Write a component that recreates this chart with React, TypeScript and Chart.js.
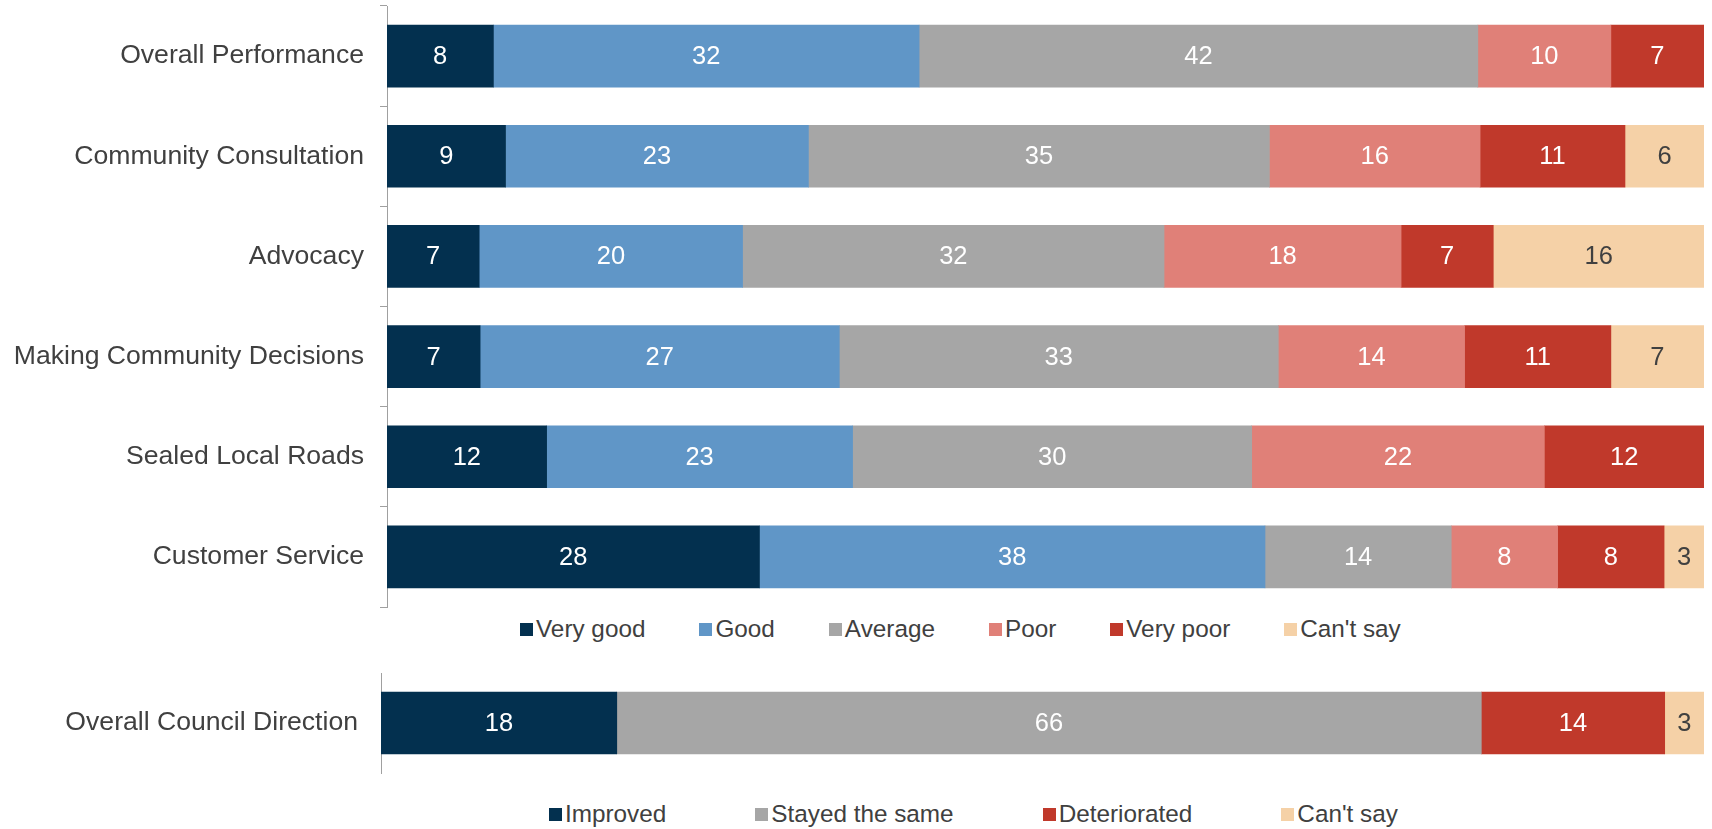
import React, { useEffect, useRef } from "react";
import { Chart, registerables } from "chart.js";

Chart.register(...registerables);

// ---------- Data ----------
const categories = [
  "Overall Performance",
  "Community Consultation",
  "Advocacy",
  "Making Community Decisions",
  "Sealed Local Roads",
  "Customer Service",
];
const ratingLabels = ["Very good", "Good", "Average", "Poor", "Very poor", "Can't say"];
const veryGood = [8, 9, 7, 7, 12, 28];
const good = [32, 23, 20, 27, 23, 38];
const average = [42, 35, 32, 33, 30, 14];
const poor = [10, 16, 18, 14, 22, 8];
const veryPoor = [7, 11, 7, 11, 12, 8];
const cantSay = [0, 6, 16, 7, 0, 3];

const directionCategories = ["Overall Council Direction"];
const directionLabels = ["Improved", "Stayed the same", "Deteriorated", "Can't say"];
const improved = [18];
const stayedSame = [66];
const deteriorated = [14];
const directionCantSay = [3];

// ---------- Styles ----------
const C_VERY_GOOD = "#03304f";
const C_GOOD = "#6096c7";
const C_AVERAGE = "#a6a6a6";
const C_POOR = "#e08078";
const C_VERY_POOR = "#c0392b";
const C_CANT_SAY = "#f5d1a7";
const TEXT = "#404040";
const FONT = "'Liberation Sans', Arial, sans-serif";

type Series = { label: string; values: number[]; color: string; labelColor: string };

const ratingSeries: Series[] = [
  { label: ratingLabels[0], values: veryGood, color: C_VERY_GOOD, labelColor: "#ffffff" },
  { label: ratingLabels[1], values: good, color: C_GOOD, labelColor: "#ffffff" },
  { label: ratingLabels[2], values: average, color: C_AVERAGE, labelColor: "#ffffff" },
  { label: ratingLabels[3], values: poor, color: C_POOR, labelColor: "#ffffff" },
  { label: ratingLabels[4], values: veryPoor, color: C_VERY_POOR, labelColor: "#ffffff" },
  { label: ratingLabels[5], values: cantSay, color: C_CANT_SAY, labelColor: TEXT },
];

const directionSeries: Series[] = [
  { label: directionLabels[0], values: improved, color: C_VERY_GOOD, labelColor: "#ffffff" },
  { label: directionLabels[1], values: stayedSame, color: C_AVERAGE, labelColor: "#ffffff" },
  { label: directionLabels[2], values: deteriorated, color: C_VERY_POOR, labelColor: "#ffffff" },
  { label: directionLabels[3], values: directionCantSay, color: C_CANT_SAY, labelColor: TEXT },
];

const valueLabelPlugin = {
  id: "valueLabels",
  afterDatasetsDraw(chart: any) {
    const ctx = chart.ctx;
    ctx.save();
    ctx.font = `25.5px ${FONT}`;
    ctx.textAlign = "center";
    ctx.textBaseline = "middle";
    chart.data.datasets.forEach((ds: any, i: number) => {
      const meta = chart.getDatasetMeta(i);
      meta.data.forEach((bar: any, j: number) => {
        const v = ds.rawValues[j];
        if (!v) return;
        const p = bar.getProps(["x", "base", "y"], true);
        ctx.fillStyle = ds.labelColor;
        ctx.fillText(String(v), (p.x + p.base) / 2, p.y + 1);
      });
    });
    ctx.restore();
  },
};

function StackedBars(props: {
  labels: string[];
  series: Series[];
  width: number;
  height: number;
  axisX: number;
  tickMarks: boolean;
}) {
  const ref = useRef<HTMLCanvasElement | null>(null);
  useEffect(() => {
    if (!ref.current) return;
    const totals = props.labels.map((_, j) =>
      props.series.reduce((s, ser) => s + ser.values[j], 0)
    );
    const chart = new Chart(ref.current, {
      type: "bar",
      data: {
        labels: props.labels,
        datasets: props.series.map((s) => ({
          label: s.label,
          data: s.values.map((v, j) => (v / totals[j]) * 100),
          rawValues: s.values,
          labelColor: s.labelColor,
          backgroundColor: s.color,
          borderWidth: 0,
          barThickness: 62,
        })) as any,
      },
      options: {
        indexAxis: "y",
        responsive: false,
        animation: false,
        events: [],
        layout: { padding: { top: 6, bottom: 6, right: 8, left: 0 } },
        plugins: { legend: { display: false }, tooltip: { enabled: false } },
        scales: {
          x: { display: false, stacked: true, min: 0, max: 100 },
          y: {
            stacked: true,
            afterFit: (scale: any) => {
              scale.width = props.axisX;
              scale.paddingTop = 0;
              scale.paddingBottom = 0;
            },
            grid: {
              display: true,
              offset: true,
              drawOnChartArea: false,
              drawTicks: props.tickMarks,
              tickLength: 7,
              color: "#a0a0a0",
              lineWidth: 1,
            },
            border: { display: true, color: "#a0a0a0", width: 1 },
            ticks: {
              padding: props.tickMarks ? 16 : 23,
              color: TEXT,
              font: { family: FONT, size: 26.6 },
            },
          },
        },
      },
      plugins: [valueLabelPlugin],
    });
    return () => chart.destroy();
  }, []);
  return <canvas ref={ref} width={props.width} height={props.height} style={{ display: "block" }} />;
}

function Legend(props: { series: Series[]; gap: number }) {
  return (
    <div
      style={{
        display: "flex",
        alignItems: "center",
        gap: props.gap,
        fontFamily: FONT,
        fontSize: 24.3,
        lineHeight: "28px",
        color: TEXT,
        whiteSpace: "nowrap",
      }}
    >
      {props.series.map((s) => (
        <div key={s.label} style={{ display: "flex", alignItems: "center" }}>
          <span
            style={{ width: 13, height: 13, background: s.color, display: "inline-block", marginRight: 3 }}
          />
          <span>{s.label}</span>
        </div>
      ))}
    </div>
  );
}

export default function App() {
  return (
    <div style={{ position: "absolute", left: 0, top: 0, width: 1712, height: 829, background: "#fff" }}>
      <div style={{ position: "absolute", left: 0, top: 0 }}>
        <StackedBars labels={categories} series={ratingSeries} width={1712} height={613} axisX={387} tickMarks={true} />
      </div>
      <div style={{ position: "absolute", left: 520, top: 615 }}>
        <Legend series={ratingSeries} gap={54} />
      </div>
      <div style={{ position: "absolute", left: 0, top: 667 }}>
        <StackedBars labels={directionCategories} series={directionSeries} width={1712} height={112} axisX={381} tickMarks={false} />
      </div>
      <div style={{ position: "absolute", left: 549, top: 800 }}>
        <Legend series={directionSeries} gap={89} />
      </div>
    </div>
  );
}
